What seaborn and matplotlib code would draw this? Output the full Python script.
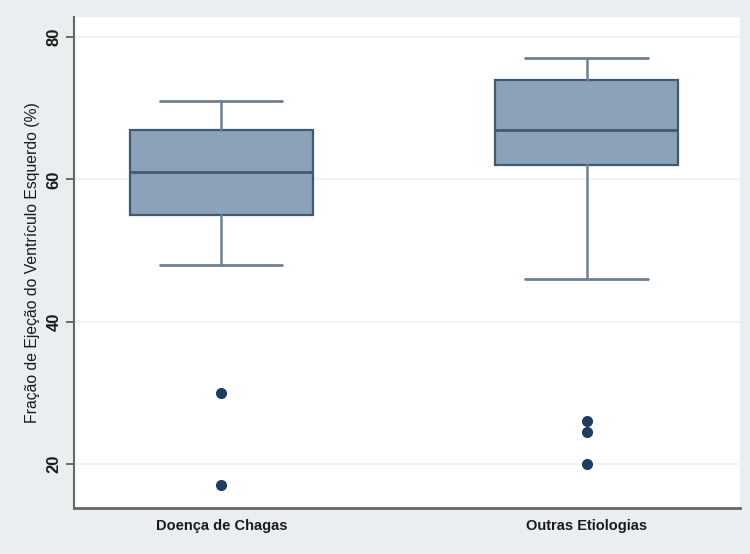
import matplotlib
matplotlib.use("Agg")
import matplotlib.pyplot as plt
import seaborn as sns
import pandas as pd

# Summary statistics (LVEF, %)
groups = ["Doença de Chagas", "Outras Etiologias"]
q1 = [55, 62]
median = [61, 67]
q3 = [67, 74]
whisker_low = [48, 46]
whisker_high = [71, 77]

# Outliers per group
outlier_group = ["Doença de Chagas", "Doença de Chagas",
                 "Outras Etiologias", "Outras Etiologias", "Outras Etiologias"]
outlier_value = [30, 17, 26, 24.5, 20]

y_ticks = [20, 40, 60, 80]
y_label = "Fração de Ejeção do Ventrículo Esquerdo (%)"

sns.set_theme(style="white")
plt.rcParams["font.family"] = ["Liberation Sans", "DejaVu Sans"]

bg = "#e9eef1"
box_fill = "#8ba2b9"
box_edge = "#3e5a74"
whisk_col = "#6d8193"
dot_col = "#1c3d60"

fig = plt.figure(figsize=(7.5, 5.54), dpi=100, facecolor=bg)
ax = fig.add_axes([0.0987, 0.083, 0.888, 0.886])
ax.set_facecolor("white")

stats = []
for i, g in enumerate(groups):
    stats.append({"label": g, "q1": q1[i], "med": median[i], "q3": q3[i],
                  "whislo": whisker_low[i], "whishi": whisker_high[i], "fliers": []})

ax.bxp(stats, positions=[0, 1], widths=0.5, capwidths=0.335, patch_artist=True,
       showfliers=False, manage_ticks=False,
       boxprops=dict(facecolor=box_fill, edgecolor=box_edge, linewidth=1.6),
       medianprops=dict(color=box_edge, linewidth=2.0),
       whiskerprops=dict(color=whisk_col, linewidth=1.8),
       capprops=dict(color=whisk_col, linewidth=2.0))

df_out = pd.DataFrame({"grupo": outlier_group, "fe": outlier_value})
sns.stripplot(data=df_out, x="grupo", y="fe", order=groups, jitter=False,
              color=dot_col, size=8, linewidth=0, ax=ax, zorder=3)

ax.set_xlim(-0.403, 1.42)
ax.set_ylim(13.8, 82.8)
ax.set_yticks(y_ticks)
ax.set_yticklabels([str(t) for t in y_ticks], rotation=90, va="center",
                   fontsize=12, fontweight="bold", color="#1a1a1a")
ax.set_xticks([0, 1])
ax.set_xticklabels(groups, fontsize=10.5, fontweight="bold", color="#1a1a1a")
ax.tick_params(axis="y", length=6, width=1.2, color="#555555", left=True, pad=3)
ax.tick_params(axis="x", length=0, pad=8)
ax.set_xlabel("")
ax.set_ylabel(y_label, fontsize=11.3, color="#1a1a1a", labelpad=5)

ax.grid(axis="y", color="#eef2f4", linewidth=1.2)
ax.set_axisbelow(True)
for s in ["top", "right"]:
    ax.spines[s].set_visible(False)
ax.spines["left"].set_color("#666666")
ax.spines["left"].set_linewidth(1.5)
ax.spines["bottom"].set_color("#666666")
ax.spines["bottom"].set_linewidth(2.0)

fig.savefig("out.png", dpi=100, facecolor=bg)
